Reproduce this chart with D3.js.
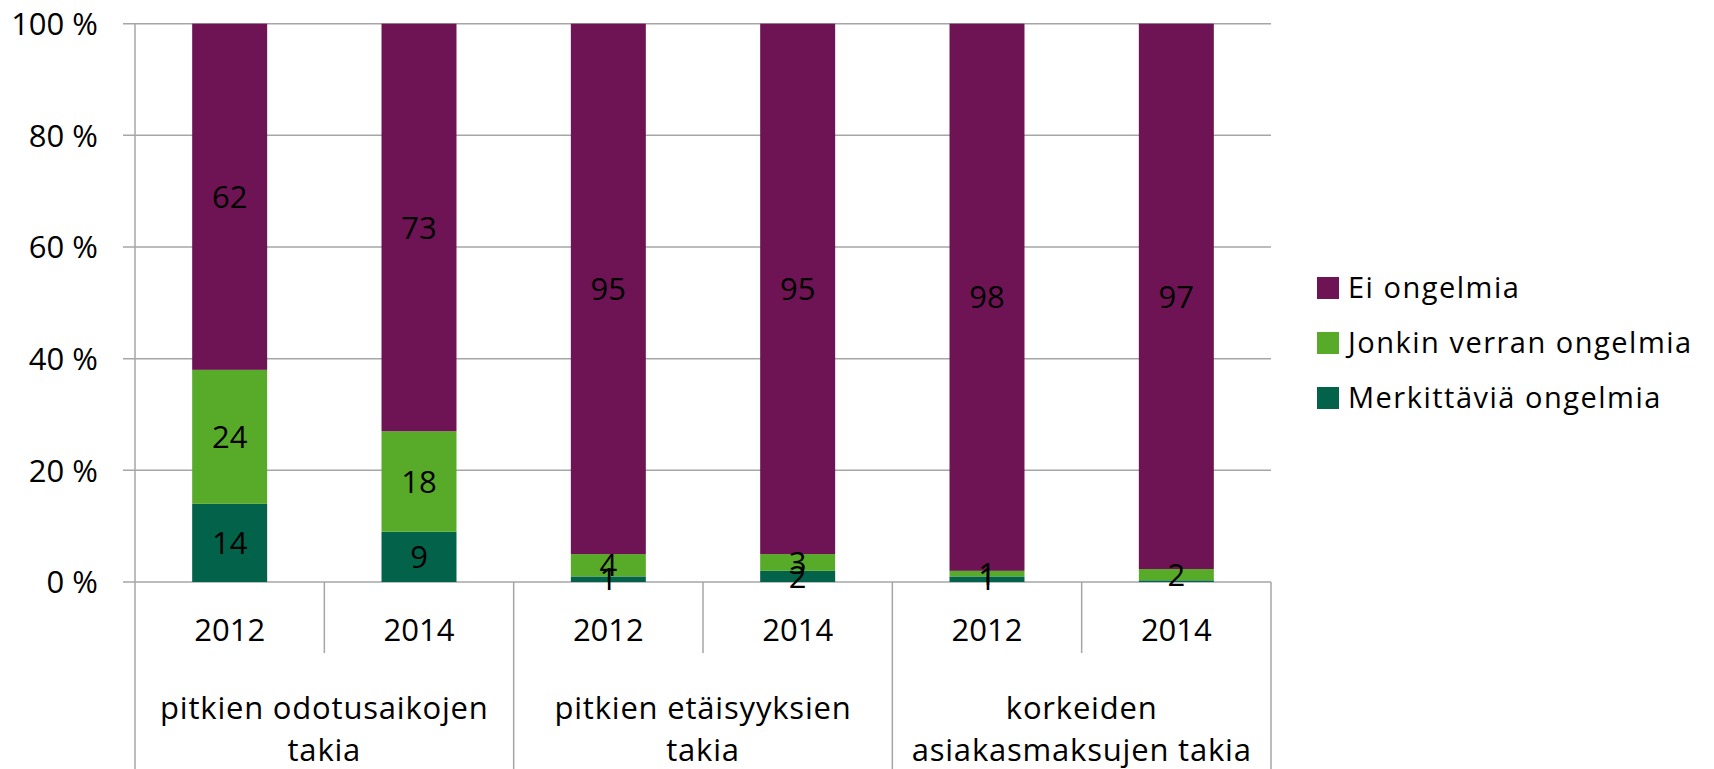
<!DOCTYPE html>
<html><head><meta charset="utf-8">
<script src="https://cdn.jsdelivr.net/npm/d3@7"></script>
<style>body{margin:0;background:#fff} svg{display:block} text{font-family:"Open Sans",sans-serif;fill:#000}</style>
</head><body><svg id="c" width="1714" height="769"></svg>
<script>
const groupLabels = [["pitkien odotusaikojen","takia"],["pitkien etäisyyksien","takia"],["korkeiden","asiakasmaksujen takia"]];
const years = ["2012","2014"];
const seriesNames = ["Merkittäviä ongelmia","Jonkin verran ongelmia","Ei ongelmia"];
const merkittavia = [14, 9, 1, 2, 1, 0.3];
const jonkinVerran = [24, 18, 4, 3, 1, 2];
const eiOngelmia = [62, 73, 95, 95, 98, 97];
const yTicks = [0, 0.2, 0.4, 0.6, 0.8, 1];
const yTickLabels = ["0 %","20 %","40 %","60 %","80 %","100 %"];
const colors = ["#02624a","#58aa29","#6e1454"];

const svg = d3.select("#c");
const L = 135, R = 1271, T = 23.7, B = 582, H = 769;
const gridColor = "#a6a6a6";

const rows = [];
groupLabels.forEach((g, gi) => years.forEach((yr, yi) => {
  const i = gi * years.length + yi;
  rows.push({key: gi + "|" + yr, year: yr, gi, s0: merkittavia[i], s1: jonkinVerran[i], s2: eiOngelmia[i]});
}));

const x = d3.scaleBand().domain(rows.map(r => r.key)).range([L, R]).paddingInner(0.604).paddingOuter(0.302);
const y = d3.scaleLinear().domain([0, 1]).range([B, T]);
const step = x.step();
const slotLeft = i => x.range()[0] + i * step;

// gridlines + ticks
svg.append("g").selectAll("line").data(yTicks).join("line")
  .attr("x1", L - 12).attr("x2", R).attr("y1", d => y(d)).attr("y2", d => y(d))
  .attr("stroke", gridColor).attr("stroke-width", 1.5);
svg.append("g").selectAll("text").data(yTicks).join("text")
  .attr("x", 98).attr("y", d => y(d)).attr("dy", "0.36em").attr("text-anchor", "end")
  .attr("font-size", 31).text((d, i) => yTickLabels[i]);

// stacked bars
const stack = d3.stack().keys(["s0","s1","s2"]).offset(d3.stackOffsetExpand);
const series = stack(rows);
const sg = svg.append("g").selectAll("g").data(series).join("g").attr("fill", (d, i) => colors[i]);
sg.selectAll("rect").data(d => d).join("rect")
  .attr("x", d => x(d.data.key)).attr("width", x.bandwidth())
  .attr("y", d => y(d[1])).attr("height", d => y(d[0]) - y(d[1]));

// axes lines in category area
svg.append("line").attr("x1", L).attr("x2", L).attr("y1", T).attr("y2", H).attr("stroke", gridColor).attr("stroke-width", 1.5);
for (let i = 1; i <= rows.length; i++) {
  const xx = slotLeft(i);
  const isGroup = i % years.length === 0;
  svg.append("line").attr("x1", xx).attr("x2", xx).attr("y1", B).attr("y2", isGroup ? H : 653)
    .attr("stroke", gridColor).attr("stroke-width", 1.5);
}

// data labels
const lg = svg.append("g");
series.forEach((s, si) => {
  lg.selectAll(null).data(s.filter(d => d.data["s" + si] >= 0.5)).join("text")
    .attr("x", d => x(d.data.key) + x.bandwidth() / 2)
    .attr("y", d => y((d[0] + d[1]) / 2)).attr("dy", "0.36em")
    .attr("text-anchor", "middle").attr("font-size", 31)
    .text(d => d3.format("d")(d.data["s" + si]));
});

// year labels
svg.append("g").selectAll("text").data(rows).join("text")
  .attr("x", d => x(d.key) + x.bandwidth() / 2).attr("y", 630).attr("dy", "0.36em")
  .attr("text-anchor", "middle").attr("font-size", 31).text(d => d.year);

// group labels
groupLabels.forEach((lines, gi) => {
  const cx = slotLeft(gi * years.length) + step * years.length / 2;
  lines.forEach((ln, li) => {
    svg.append("text").attr("x", cx).attr("y", 708 + li * 42).attr("dy", "0.36em")
      .attr("text-anchor", "middle").attr("font-size", 31).attr("letter-spacing", 0.8).text(ln);
  });
});

// legend
const legendOrder = [2, 1, 0];
const leg = svg.append("g");
legendOrder.forEach((si, k) => {
  const cy = 288 + k * 55;
  leg.append("rect").attr("x", 1317).attr("y", cy - 11).attr("width", 22).attr("height", 22).attr("fill", colors[si]);
  leg.append("text").attr("x", 1348).attr("y", cy).attr("dy", "0.36em").attr("font-size", 29)
    .attr("letter-spacing", 1.5).text(seriesNames[si]);
});
</script></body></html>
